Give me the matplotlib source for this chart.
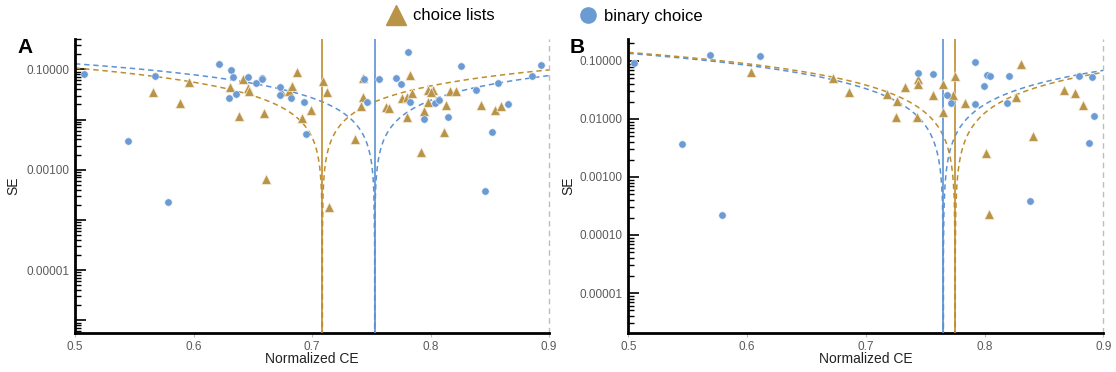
import numpy as np
import matplotlib
matplotlib.use("Agg")
import matplotlib.pyplot as plt
from matplotlib.lines import Line2D
from matplotlib.ticker import LogLocator, FixedLocator, FuncFormatter, NullFormatter

plt.rcParams['font.family'] = ['Liberation Sans', 'DejaVu Sans']

# ---------------- data ----------------
# Panel A
a_bin_ce = [0.5078, 0.5675, 0.5445, 0.5788, 0.6213, 0.6319, 0.6333, 0.6297, 0.6359, 0.6457,
            0.6525, 0.6575, 0.6578, 0.6730, 0.6730, 0.6820, 0.6932, 0.6952, 0.7441, 0.7568,
            0.7709, 0.7807, 0.7754, 0.7467, 0.7827, 0.7942, 0.8038, 0.8074, 0.8145, 0.8260,
            0.8381, 0.8516, 0.8460, 0.8570, 0.8657, 0.8859, 0.8930]
a_bin_se = [0.080, 0.0736, 0.0037, 0.00023, 0.128, 0.0955, 0.070, 0.0264, 0.0318, 0.069,
            0.0533, 0.067, 0.063, 0.045, 0.031, 0.027, 0.0227, 0.0051, 0.065, 0.064,
            0.068, 0.221, 0.050, 0.022, 0.0227, 0.0102, 0.0216, 0.0244, 0.011, 0.116,
            0.039, 0.0057, 0.00037, 0.054, 0.0206, 0.0736, 0.12]
a_cl_ce = [0.5658, 0.5889, 0.5966, 0.6312, 0.6387, 0.6420, 0.6462, 0.6470, 0.6591, 0.6609,
           0.6738, 0.6806, 0.6835, 0.6873, 0.6913, 0.6992, 0.7090, 0.7129, 0.7146, 0.7365,
           0.7433, 0.7428, 0.7411, 0.7624, 0.7652, 0.7802, 0.7830, 0.7762, 0.7799, 0.7841,
           0.7917, 0.7981, 0.8024, 0.8008, 0.7981, 0.7945, 0.8127, 0.8116, 0.8165, 0.8215,
           0.8428, 0.8544, 0.8592]
a_cl_se = [0.0353, 0.021, 0.057, 0.0448, 0.0117, 0.063, 0.0418, 0.0365, 0.0138, 0.00065,
           0.0369, 0.0365, 0.0476, 0.0904, 0.0106, 0.0155, 0.0577, 0.0348, 0.000178, 0.0041,
           0.068, 0.0277, 0.0186, 0.0181, 0.0169, 0.011, 0.078, 0.0272, 0.028, 0.0333,
           0.0023, 0.0387, 0.0387, 0.0348, 0.0226, 0.0148, 0.0194, 0.0056, 0.037, 0.037,
           0.0196, 0.0155, 0.0184]
a_mean_cl = 0.7087
a_mean_bin = 0.7529

# Panel B
b_bin_ce = [0.5048, 0.5688, 0.6107, 0.5452, 0.5789, 0.7440, 0.7569, 0.7686, 0.7720, 0.7920,
            0.7917, 0.7993, 0.8018, 0.8048, 0.8206, 0.8189, 0.8383, 0.8795, 0.8902, 0.8922,
            0.8880]
b_bin_se = [0.0913, 0.128, 0.122, 0.00375, 0.000224, 0.0621, 0.0597, 0.0256, 0.0187, 0.096,
            0.0184, 0.037, 0.0574, 0.0558, 0.0551, 0.0191, 0.00038, 0.0545, 0.0536, 0.0114,
            0.00386]
b_cl_ce = [0.6031, 0.6726, 0.6856, 0.7181, 0.7265, 0.7254, 0.7333, 0.7437, 0.7437, 0.7429,
           0.7566, 0.7653, 0.7653, 0.7749, 0.7737, 0.7838, 0.8010, 0.8267, 0.8307, 0.8411,
           0.8040, 0.8669, 0.8764, 0.8826]
b_cl_se = [0.0654, 0.0503, 0.0292, 0.0267, 0.0204, 0.0107, 0.0352, 0.049, 0.0397, 0.0107,
           0.026, 0.0401, 0.013, 0.0558, 0.026, 0.0191, 0.00262, 0.0237, 0.090, 0.0051,
           0.000233, 0.0312, 0.028, 0.0174]
b_mean_cl = 0.7753
b_mean_bin = 0.7653

x_ticks = [0.5, 0.6, 0.7, 0.8, 0.9]
x_tick_labels = ["0.5", "0.6", "0.7", "0.8", "0.9"]

# ---------------- style ----------------
GOLD = "#B99348"
BLUE = "#6C9BD4"
GOLD_LINE = "#BF8D2C"
BLUE_LINE = "#5B92D3"
GRAY_TXT = "#5a5a5a"

W, H = 1116, 372
fig = plt.figure(figsize=(W / 100, H / 100), dpi=100)


def funnel(ax, m, color):
    z = 1.96
    left = np.concatenate([np.linspace(0.5, m - 1e-4, 400), m - np.geomspace(1e-4, 1e-9, 60)])
    right = np.concatenate([m + np.geomspace(1e-9, 1e-4, 60), np.linspace(m + 1e-4, 0.9, 400)])
    for xs in (left, right):
        ax.plot(xs, np.abs(xs - m) / z, color=color, lw=1.1, ls=(0, (3.5, 2.5)), zorder=2)


def panel(rect, bin_ce, bin_se, cl_ce, cl_se, m_cl, m_bin, ylim, labelled, ylabel_x):
    ax = fig.add_axes(rect)
    ax.set_yscale('log')
    ax.set_xlim(0.5, 0.9)
    ax.set_ylim(*ylim)
    funnel(ax, m_bin, BLUE_LINE)
    funnel(ax, m_cl, GOLD_LINE)
    ax.axvline(m_cl, color=GOLD_LINE, lw=1.2, zorder=3)
    ax.axvline(m_bin, color=BLUE_LINE, lw=1.2, zorder=3)
    ax.axvline(0.9, color="#bdbdbd", lw=1.0, ls=(0, (4, 3)), zorder=1, clip_on=False)
    ax.scatter(cl_ce, cl_se, marker='^', s=48, color=GOLD, edgecolors="#f3ead8",
               linewidths=0.5, zorder=4)
    ax.scatter(bin_ce, bin_se, marker='o', s=28, color=BLUE, edgecolors="#e6eef8",
               linewidths=0.4, zorder=4)
    for s in ('top', 'right'):
        ax.spines[s].set_visible(False)
    for s in ('left', 'bottom'):
        ax.spines[s].set_linewidth(2.0)
        ax.spines[s].set_color('black')
    decades = [10.0 ** k for k in range(-7, 1)]
    ax.yaxis.set_major_locator(FixedLocator(decades))
    ax.yaxis.set_minor_locator(LogLocator(base=10, subs=np.arange(2, 10), numticks=20))
    ax.yaxis.set_minor_formatter(NullFormatter())
    ax.yaxis.set_major_formatter(FuncFormatter(
        lambda v, p: ("%.5f" % v) if any(abs(v - l) / l < 1e-6 for l in labelled) else ""))
    ax.tick_params(axis='y', which='major', direction='in', length=8, width=1.2,
                   color='black', labelsize=8.5, labelcolor=GRAY_TXT, pad=4)
    ax.tick_params(axis='y', which='minor', direction='in', length=4.5, width=1.0, color='black')
    ax.set_xticks(x_ticks)
    ax.set_xticklabels(x_tick_labels)
    ax.tick_params(axis='x', which='major', direction='out', length=3, width=0.8,
                   color='#bbbbbb', labelsize=8.5, labelcolor=GRAY_TXT, pad=3)
    ax.set_xlabel("Normalized CE", fontsize=10, color="#222222", labelpad=-1)
    ax.set_ylabel("SE", fontsize=10, color="#222222")
    ax.yaxis.set_label_coords(ylabel_x, 0.5)
    return ax


axA = panel([75 / W, 1 - 332.7 / H, 474 / W, 293.7 / H], a_bin_ce, a_bin_se, a_cl_ce, a_cl_se,
            a_mean_cl, a_mean_bin, (5.66e-7, 0.402), [1e-1, 1e-3, 1e-5], -0.115)
axB = panel([628.3 / W, 1 - 332.7 / H, 475 / W, 293.7 / H], b_bin_ce, b_bin_se, b_cl_ce, b_cl_se,
            b_mean_cl, b_mean_bin, (2.07e-6, 0.239), [1e-1, 1e-2, 1e-3, 1e-4, 1e-5], -0.112)

fig.text(17 / W, 1 - 47.5 / H, "A", fontsize=15, fontweight='bold', va='center', ha='left')
fig.text(570 / W, 1 - 47.5 / H, "B", fontsize=15, fontweight='bold', va='center', ha='left')

handles = [Line2D([], [], marker='^', ls='none', color=GOLD, markersize=15, label="choice lists"),
           Line2D([], [], marker='o', ls='none', color=BLUE, markersize=11, label="binary choice")]
fig.legend(handles=handles, loc='center', bbox_to_anchor=(0.488, 1 - 16 / H), ncol=2,
           frameon=False, fontsize=12, handletextpad=0.4, columnspacing=5.0,
           borderaxespad=0, handlelength=1.2)

fig.savefig("out.png", dpi=100)
